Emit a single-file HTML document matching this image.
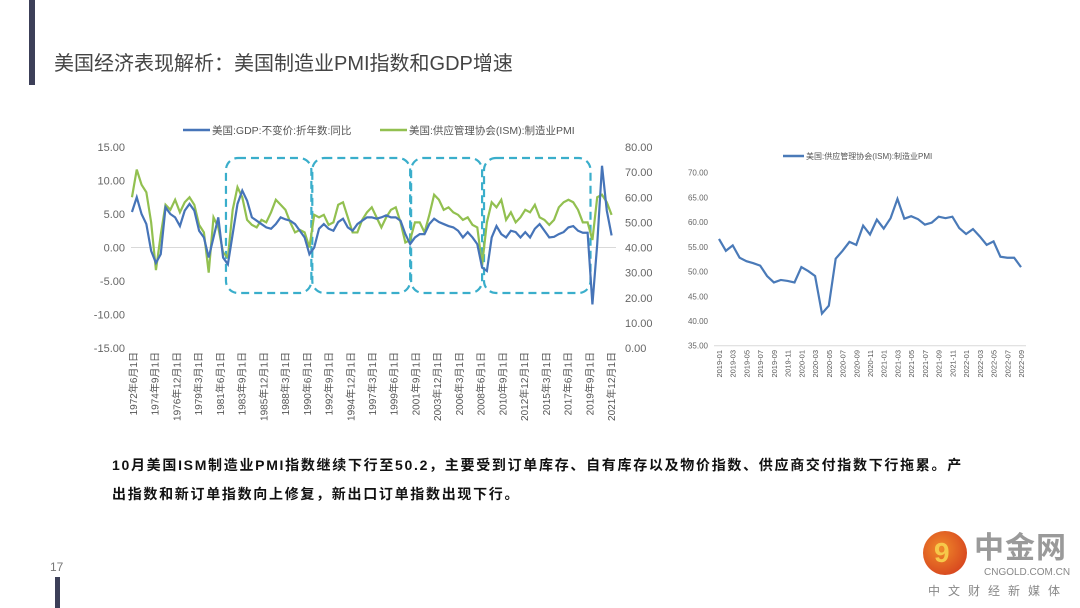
<!DOCTYPE html>
<html><head><meta charset="utf-8">
<style>
body{margin:0;width:1080px;height:608px;background:#fff;overflow:hidden;position:relative;font-family:"Liberation Sans","Noto Sans CJK SC",sans-serif;}
.abs{position:absolute;}
svg text{font-family:"Liberation Sans","Noto Sans CJK SC",sans-serif;}
</style></head><body>
<div class="abs" style="left:29px;top:0;width:6px;height:85px;background:#3c3f58"></div>
<div class="abs" style="left:54px;top:47px;font-size:20px;color:#444;white-space:nowrap">美国经济表现解析：美国制造业PMI指数和GDP增速</div>

<svg class="abs" style="left:0;top:0" width="1080" height="440">
<g id="left"></g><g id="right"></g>
</svg>

<div class="abs" style="left:112px;top:451px;width:862px;font-size:14px;font-weight:bold;color:#111;line-height:29px;letter-spacing:1.7px">10月美国ISM制造业PMI指数继续下行至50.2，主要受到订单库存、自有库存以及物价指数、供应商交付指数下行拖累。产出指数和新订单指数向上修复，新出口订单指数出现下行。</div>

<div class="abs" style="left:50px;top:560px;font-size:12px;color:#777">17</div>
<div class="abs" style="left:55px;top:577px;width:5px;height:31px;background:#3c3f58"></div>

<div class="abs" style="left:922px;top:530px;width:158px;height:78px">
<div class="abs" style="left:1px;top:1px;width:44px;height:44px;border-radius:50%;background:radial-gradient(circle at 40% 40%,#f08a2a,#d0321c)"></div>
<div class="abs" style="left:12px;top:8px;font-size:28px;font-weight:bold;color:#f6c84a;line-height:30px">9</div>
<div class="abs" style="left:52px;top:2px;font-size:30px;font-weight:bold;color:#9a9a9a;line-height:34px;letter-spacing:1px">中金网</div>
<div class="abs" style="left:62px;top:37px;font-size:10px;color:#888">CNGOLD.COM.CN</div>
<div class="abs" style="left:6px;top:52px;font-size:12px;color:#888;letter-spacing:8px">中文财经新媒体</div>
</div>

<script>
const ns='http://www.w3.org/2000/svg';
function mk(p,tag,attrs,txt){const e=document.createElementNS(ns,tag);for(const k in attrs)e.setAttribute(k,attrs[k]);if(txt!==undefined)e.textContent=txt;p.appendChild(e);return e;}

// ---------- Left chart data ----------
const gdpYears=[1972.5,1973,1973.5,1974,1974.5,1975,1975.5,1976,1976.5,1977,1977.5,1978,1978.5,1979,1979.5,1980,1980.5,1981,1981.5,1982,1982.5,1983,1983.5,1984,1984.5,1985,1985.5,1986,1986.5,1987,1987.5,1988,1988.5,1989,1989.5,1990,1990.5,1991,1991.5,1992,1992.5,1993,1993.5,1994,1994.5,1995,1995.5,1996,1996.5,1997,1997.5,1998,1998.5,1999,1999.5,2000,2000.5,2001,2001.5,2002,2002.5,2003,2003.5,2004,2004.5,2005,2005.5,2006,2006.5,2007,2007.5,2008,2008.5,2009,2009.5,2010,2010.5,2011,2011.5,2012,2012.5,2013,2013.5,2014,2014.5,2015,2015.5,2016,2016.5,2017,2017.5,2018,2018.5,2019,2019.5,2020,2020.5,2021,2021.5,2022,2022.5];
const gdpValues=[5.3,7.5,5,3.5,-0.5,-2.3,-1,6,5,4.5,3.2,5.5,6.5,5.5,2.5,1.5,-1.5,1.5,4.5,-1.5,-2.5,2,6.5,8.5,7,4.5,4,3.5,3,2.8,3.5,4.5,4.2,4,3.5,2.5,1.5,-1,0,2.8,3.5,2.8,2.5,3.8,4.3,3,2.5,3.5,4,4.5,4.5,4.3,4.5,4.8,4.5,4.5,4,2,0.5,1.5,2,2,3.5,4.3,3.8,3.5,3.2,3,2.5,1.5,2.3,1.5,0.5,-3,-3.5,1.5,3.2,2,1.5,2.5,2.3,1.5,2.3,1.5,2.8,3.5,2.5,1.5,1.6,2,2.3,3,3.2,2.5,2.2,2.2,-8.5,0.5,12.2,5.5,1.8];
const pmiValues=[60,71,65,62,50,31,45,57,55,59,54,58,60,57,49,46,30,52,48,38,36,55,64,60,51,49,48,51,50,54,59,57,55,50,46,47,46,40,53,52,53,49,50,57,58,52,46,46,51,54,56,52,48,52,55,56,50,42,43,50,50,46,53,61,59,55,56,54,53,51,52,49,48,33,50,58,56,59,51,54,50,52,55,54,57,52,51,49,51,56,58,59,58,55,50,50,43,60,61,58,53];
const leftTicks=[15,10,5,0,-5,-10,-15];
const rightTicks=[80,70,60,50,40,30,20,10,0];
const dateLabels=['1972年6月1日','1974年9月1日','1976年12月1日','1979年3月1日','1981年6月1日','1983年9月1日','1985年12月1日','1988年3月1日','1990年6月1日','1992年9月1日','1994年12月1日','1997年3月1日','1999年6月1日','2001年9月1日','2003年12月1日','2006年3月1日','2008年6月1日','2010年9月1日','2012年12月1日','2015年3月1日','2017年6月1日','2019年9月1日','2021年12月1日'];
const boxRanges=[[1982.3,1991.2],[1991.3,2001.5],[2001.6,2009.0],[2009.2,2020.3]];

const L=document.getElementById('left');
const x0=131,x1=614,yr0=1972.4,yr1=2022.75;
const xs=y=>x0+(y-yr0)/(yr1-yr0)*(x1-x0);
const yl=v=>247.5-v*(100.5/15);
const yr=v=>348-v*(201/80);

leftTicks.forEach(t=>{const e=mk(L,'text',{x:125,y:yl(t)+4,'text-anchor':'end','font-size':11,fill:'#666'},t.toFixed(2));
});
rightTicks.forEach(t=>{const e=mk(L,'text',{x:625,y:yr(t)+4,'font-size':11,fill:'#666'},t.toFixed(2));
});
const zl=mk(L,'line',{x1:x0,x2:x1+2,y1:yl(0),y2:yl(0),stroke:'#d9d9d9','stroke-width':1});

dateLabels.forEach((d,i)=>{const x=x0+i*(611-133)/(dateLabels.length-1)+2;
const e=mk(L,'text',{transform:`translate(${x+4},352) rotate(-90)`,'text-anchor':'end','font-size':10,fill:'#555'},d);
});
boxRanges.forEach(r=>{const e=mk(L,'rect',{x:xs(r[0]),y:158,width:xs(r[1])-xs(r[0]),height:135,rx:12,fill:'none',stroke:'#3aaecb','stroke-width':2.2,'stroke-dasharray':'8,5'});
});
const pp=mk(L,'polyline',{points:gdpYears.map((y,i)=>xs(y)+','+yr(pmiValues[i])).join(' '),fill:'none',stroke:'#92c050','stroke-width':2.2});

const gp=mk(L,'polyline',{points:gdpYears.map((y,i)=>xs(y)+','+yl(gdpValues[i])).join(' '),fill:'none',stroke:'#4674b8','stroke-width':2.2});

let lg=mk(L,'line',{x1:183,x2:210,y1:130,y2:130,stroke:'#4674b8','stroke-width':2.5});

lg=mk(L,'text',{x:212,y:134,'font-size':10.5,fill:'#555'},'美国:GDP:不变价:折年数:同比');

lg=mk(L,'line',{x1:380,x2:407,y1:130,y2:130,stroke:'#92c050','stroke-width':2.5});

lg=mk(L,'text',{x:409,y:134,'font-size':10.5,fill:'#555'},'美国:供应管理协会(ISM):制造业PMI');


// ---------- Right chart data ----------
const rMonths=['2019-01','2019-02','2019-03','2019-04','2019-05','2019-06','2019-07','2019-08','2019-09','2019-10','2019-11','2019-12','2020-01','2020-02','2020-03','2020-04','2020-05','2020-06','2020-07','2020-08','2020-09','2020-10','2020-11','2020-12','2021-01','2021-02','2021-03','2021-04','2021-05','2021-06','2021-07','2021-08','2021-09','2021-10','2021-11','2021-12','2022-01','2022-02','2022-03','2022-04','2022-05','2022-06','2022-07','2022-08','2022-09'];
const rValues=[56.6,54.2,55.3,52.8,52.1,51.7,51.2,49.1,47.8,48.3,48.1,47.8,50.9,50.1,49.1,41.5,43.1,52.6,54.2,56.0,55.4,59.3,57.5,60.5,58.7,60.8,64.7,60.7,61.2,60.6,59.5,59.9,61.1,60.8,61.1,58.8,57.6,58.6,57.1,55.4,56.1,53.0,52.8,52.8,50.9];
const rTicks=[70,65,60,55,50,45,40,35];

const R=document.getElementById('right');
const rx=i=>719+i*(1021-719)/(rMonths.length-1);
const ry=v=>345.7-(v-35)*(173/35);
rTicks.forEach(t=>{const e=mk(R,'text',{x:708,y:ry(t)+3,'text-anchor':'end','font-size':8,fill:'#666'},t.toFixed(2));
});
const ax=mk(R,'line',{x1:714,x2:1026,y1:ry(35),y2:ry(35),stroke:'#d9d9d9'});

rMonths.forEach((m,i)=>{if(i%2)return;const e=mk(R,'text',{transform:`translate(${rx(i)+3},350) rotate(-90)`,'text-anchor':'end','font-size':7.5,fill:'#555'},m);
});
const rl=mk(R,'polyline',{points:rValues.map((v,i)=>rx(i)+','+ry(v)).join(' '),fill:'none',stroke:'#4a7ab8','stroke-width':2.2});

lg=mk(R,'line',{x1:783,x2:804,y1:156,y2:156,stroke:'#4a7ab8','stroke-width':2.5});

lg=mk(R,'text',{x:806,y:159,'font-size':8,fill:'#555'},'美国:供应管理协会(ISM):制造业PMI');

</script>
</body></html>
